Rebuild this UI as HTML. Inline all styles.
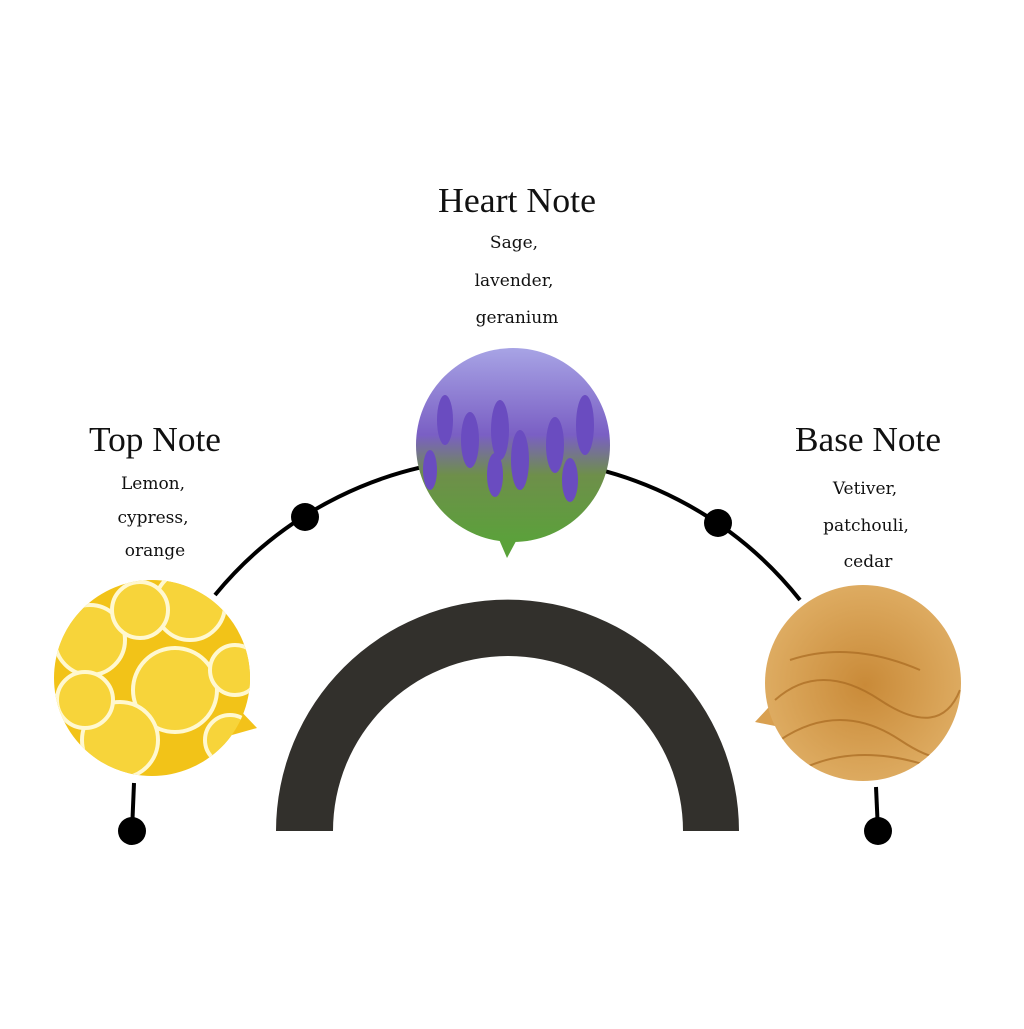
<!DOCTYPE html>
<html><head><meta charset="utf-8"><style>
body{margin:0;background:#fff;width:1024px;height:1024px;overflow:hidden}
</style></head><body>
<svg width="1024" height="1024" viewBox="0 0 1024 1024" xmlns="http://www.w3.org/2000/svg">
<defs>
<clipPath id="c1"><circle cx="152" cy="678" r="98"/></clipPath>
<clipPath id="c2"><circle cx="513" cy="445" r="97"/></clipPath>
<clipPath id="c3"><circle cx="863" cy="683" r="98"/></clipPath>
<linearGradient id="lav" x1="0" y1="0" x2="0" y2="1">
<stop offset="0" stop-color="#a9a6e6"/><stop offset="0.45" stop-color="#7a5fc4"/><stop offset="0.65" stop-color="#6e8f4a"/><stop offset="1" stop-color="#5aa23a"/></linearGradient>
<radialGradient id="hay" cx="0.5" cy="0.5" r="0.6">
<stop offset="0" stop-color="#c98a38"/><stop offset="1" stop-color="#e3b46c"/></radialGradient>
</defs>
<path d="M276 831 A231.5 231.5 0 0 1 739 831 L683 831 A175 175 0 0 0 333 831 Z" fill="#32302c"/>
<path d="M215 595 A376 376 0 0 1 800 600" fill="none" stroke="#000" stroke-width="4"/>
<circle cx="305" cy="517" r="14"/>
<circle cx="718" cy="523" r="14"/>
<line x1="134" y1="783" x2="132" y2="831" stroke="#000" stroke-width="4"/>
<circle cx="132" cy="831" r="14"/>
<line x1="876" y1="787" x2="878" y2="831" stroke="#000" stroke-width="4"/>
<circle cx="878" cy="831" r="14"/>
<polygon points="235,705 257,728 232,735" fill="#f3c21a"/>
<g clip-path="url(#c1)">
<rect x="50" y="575" width="210" height="210" fill="#f2c318"/>
<g fill="#f7d43a" stroke="#fff8d0" stroke-width="4">
<circle cx="175" cy="690" r="42"/><circle cx="90" cy="640" r="35"/><circle cx="190" cy="605" r="35"/>
<circle cx="120" cy="740" r="38"/><circle cx="85" cy="700" r="28"/><circle cx="235" cy="670" r="25"/>
<circle cx="140" cy="610" r="28"/><circle cx="230" cy="740" r="25"/>
</g>
</g>
<polygon points="495,530 507,558 522,530" fill="#5aa23a"/>
<g clip-path="url(#c2)">
<rect x="410" y="345" width="210" height="200" fill="url(#lav)"/>
<g fill="#6a4cc0">
<ellipse cx="445" cy="420" rx="8" ry="25"/><ellipse cx="470" cy="440" rx="9" ry="28"/><ellipse cx="500" cy="430" rx="9" ry="30"/>
<ellipse cx="520" cy="460" rx="9" ry="30"/><ellipse cx="555" cy="445" rx="9" ry="28"/><ellipse cx="585" cy="425" rx="9" ry="30"/>
<ellipse cx="495" cy="475" rx="8" ry="22"/><ellipse cx="570" cy="480" rx="8" ry="22"/><ellipse cx="430" cy="470" rx="7" ry="20"/>
</g>
</g>
<polygon points="780,695 755,722 785,728" fill="#d9a050"/>
<g clip-path="url(#c3)">
<rect x="760" y="580" width="210" height="210" fill="url(#hay)"/>
<g stroke="#a86a22" stroke-width="2" fill="none" opacity="0.7">
<path d="M775 700 Q820 660 880 700 T960 690"/><path d="M780 740 Q840 700 900 740 T960 730"/>
<path d="M790 660 Q850 640 920 670"/><path d="M800 770 Q860 740 940 770"/>
</g>
</g>
<g font-family="Liberation Serif, serif" font-size="35" fill="#111" text-anchor="middle">
<text x="517" y="212" textLength="158" lengthAdjust="spacingAndGlyphs">Heart Note</text>
<text x="155" y="451" textLength="132" lengthAdjust="spacingAndGlyphs">Top Note</text>
<text x="868" y="451" textLength="146" lengthAdjust="spacingAndGlyphs">Base Note</text>
</g>
<g font-family="DejaVu Serif, serif" font-size="17" fill="#111" text-anchor="middle">
<text x="514" y="248">Sage,</text>
<text x="514" y="286">lavender,</text>
<text x="517" y="323">geranium</text>
<text x="153" y="489">Lemon,</text>
<text x="153" y="523">cypress,</text>
<text x="155" y="556">orange</text>
<text x="865" y="494">Vetiver,</text>
<text x="866" y="531">patchouli,</text>
<text x="868" y="567">cedar</text>
</g>
</svg>
</body></html>
